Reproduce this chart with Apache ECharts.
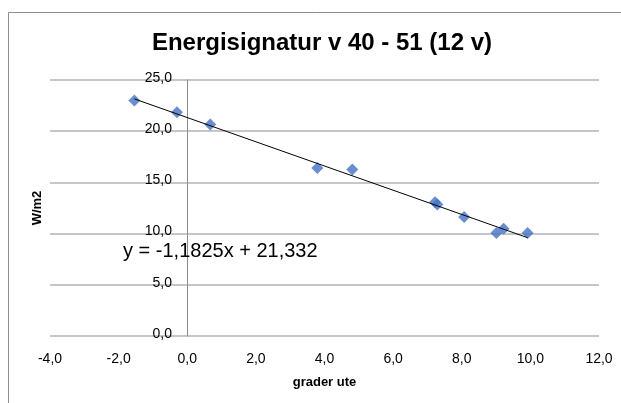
<!DOCTYPE html>
<html>
<head>
<meta charset="utf-8">
<script src="https://cdn.jsdelivr.net/npm/echarts@6/dist/echarts.min.js"></script>
<style>
  html, body { margin: 0; padding: 0; background: #fff; }
  #chart { width: 621px; height: 403px; }
</style>
</head>
<body>
<div id="chart"></div>
<script>
// mätpunkter: utetemperatur (grader) och effekt (W/m2)
var graderUte = [-1.54, -0.30, 0.67, 3.79, 4.81, 7.22, 7.29, 8.07, 9.01, 9.22, 9.92];
var effekt    = [23.0, 21.86, 20.65, 16.4, 16.26, 13.07, 12.85, 11.63, 10.05, 10.48, 10.05];
// trendlinje
var lutning = -1.1825;
var konstant = 21.332;
var ekvation = 'y = -1,1825x + 21,332';

var punkter = [];
for (var i = 0; i < graderUte.length; i++) {
    punkter.push([graderUte[i], effekt[i]]);
}
var xMin = Math.min.apply(null, graderUte);
var xMax = Math.max.apply(null, graderUte);
var trend = [[xMin, lutning * xMin + konstant], [xMax, lutning * xMax + konstant]];

function komma(v) {
    return v.toFixed(1).replace('.', ',');
}

var myChart = echarts.init(document.getElementById('chart'));
var option = {
    animation: false,
    textStyle: { fontFamily: 'Liberation Sans' },
    title: {
        text: 'Energisignatur v 40 - 51 (12 v)',
        left: 317,
        textAlign: 'center',
        top: 26,
        textStyle: { fontSize: 24, fontWeight: 'bold', color: '#000', fontFamily: 'Liberation Sans' }
    },
    grid: { left: 50, right: 22, top: 80, bottom: 67, outerBoundsMode: 'none' },
    xAxis: {
        type: 'value',
        min: -4, max: 12, interval: 2,
        name: 'grader ute',
        nameLocation: 'middle',
        nameGap: 40,
        nameTextStyle: { fontSize: 13, fontWeight: 'bold', color: '#000' },
        axisLine: { show: false },
        axisTick: { show: false },
        splitLine: { show: false },
        axisLabel: { fontSize: 14, color: '#000', margin: 16, formatter: komma }
    },
    yAxis: {
        type: 'value',
        min: 0, max: 25, interval: 5,
        // flytta axeln till x = 0
        offset: -137,
        name: 'W/m2',
        nameLocation: 'middle',
        nameRotate: 90,
        nameGap: 143,
        nameTextStyle: { fontSize: 13, fontWeight: 'bold', color: '#000' },
        axisLine: { show: true, onZero: false, lineStyle: { color: '#8c8c8c', width: 1 } },
        axisTick: { show: false },
        splitLine: { show: true, lineStyle: { color: '#b3b3b3', width: 1.5 } },
        axisLabel: { fontSize: 14, color: '#000', margin: 15, formatter: komma, verticalAlign: 'bottom', padding: [0, 0, -5, 0] }
    },
    graphic: [
        {
            type: 'rect',
            shape: { x: 8.5, y: 12.5, width: 700, height: 500 },
            style: { fill: 'none', stroke: '#8c8c8c', lineWidth: 1 },
            silent: true
        },
        {
            type: 'text',
            left: 123,
            top: 241,
            style: { text: ekvation, fontSize: 20, fill: '#000', fontFamily: 'Liberation Sans' },
            z: 10
        }
    ],
    series: [
        {
            type: 'line',
            data: trend,
            symbol: 'none',
            lineStyle: { color: '#000', width: 1 },
            z: 3
        },
        {
            type: 'scatter',
            data: punkter,
            symbol: 'diamond',
            symbolSize: 12,
            itemStyle: { color: '#4472c4' },
            z: 2
        }
    ]
};
myChart.setOption(option);
</script>
</body>
</html>
